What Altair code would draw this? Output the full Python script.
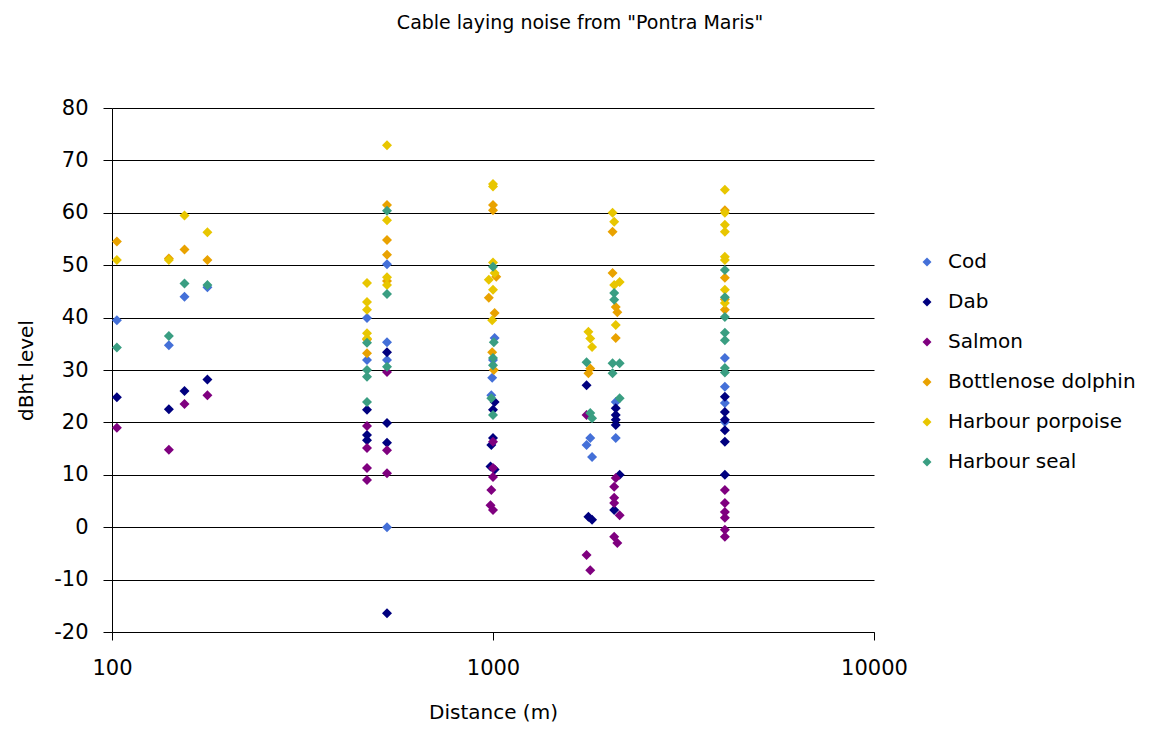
import altair as alt
import pandas as pd

species_order = ["Cod", "Dab", "Salmon", "Bottlenose dolphin", "Harbour porpoise", "Harbour seal"]
colors = ["#4470D8", "#00007F", "#7F007F", "#E9A200", "#E8C600", "#3A9E82"]

cod_dist = [103, 141, 155, 178, 467, 467, 527, 527, 527, 527, 1010, 1000, 995, 990, 1800, 1760, 1820, 2100, 2100, 4060, 4060, 4060, 4060]
cod_db = [39.5, 34.7, 44.0, 45.8, 39.9, 31.9, 50.2, 35.3, 31.9, 0.0, 36.1, 31.9, 28.5, 25.2, 17.0, 15.7, 13.4, 23.9, 17.0, 32.3, 26.8, 23.7, 20.1]

dab_dist = [103, 141, 155, 178, 467, 467, 467, 527, 527, 527, 527, 1010, 1000, 1000, 990, 985, 1010, 1760, 1780, 1820, 2100, 2100, 2100, 2100, 2150, 2080, 4060, 4060, 4060, 4060, 4060, 4060]
dab_db = [24.8, 22.5, 26.0, 28.2, 22.4, 17.6, 16.6, 33.4, 19.9, 16.1, -16.4, 23.9, 22.4, 17.0, 15.7, 11.6, 11.0, 27.1, 2.0, 1.4, 22.7, 21.4, 20.5, 19.5, 10.0, 3.3, 24.9, 22.0, 20.5, 18.5, 16.3, 10.0]

salmon_dist = [103, 141, 155, 178, 467, 467, 467, 467, 527, 527, 527, 1000, 1000, 1000, 990, 985, 1000, 1760, 1760, 1800, 2100, 2080, 2080, 2080, 2150, 2080, 2120, 4060, 4060, 4060, 4060, 4060, 4060]
salmon_db = [19.0, 14.8, 23.5, 25.2, 19.3, 15.1, 11.3, 9.0, 29.6, 14.7, 10.3, 16.3, 11.3, 9.6, 7.1, 4.2, 3.3, 21.4, -5.3, -8.2, 9.4, 7.7, 5.6, 4.6, 2.3, -1.8, -3.0, 7.1, 4.6, 2.9, 1.8, -0.5, -1.8]

bottlenose_dist = [103, 141, 155, 178, 467, 467, 527, 527, 527, 527, 1000, 1000, 1020, 975, 1010, 995, 1005, 1800, 1780, 2060, 2060, 2100, 2120, 2100, 4060, 4060, 4060, 4060]
bottlenose_db = [54.5, 51.3, 53.0, 51.0, 33.2, 35.8, 61.5, 54.8, 52.0, 47.0, 61.5, 60.5, 47.8, 43.8, 40.9, 33.4, 30.0, 30.3, 29.4, 56.4, 48.5, 42.0, 41.0, 36.1, 60.5, 47.6, 41.5, 43.5]

porpoise_dist = [103, 141, 155, 178, 467, 467, 467, 467, 467, 527, 527, 527, 527, 1000, 1000, 1000, 975, 1010, 1000, 995, 1780, 1800, 1820, 2060, 2080, 2150, 2080, 2100, 4060, 4060, 4060, 4060, 4060, 4060, 4060, 4060]
porpoise_db = [51.0, 51.0, 59.5, 56.3, 46.6, 43.0, 41.5, 37.0, 36.0, 72.9, 58.6, 47.7, 46.2, 65.5, 65.0, 50.5, 47.2, 48.5, 45.3, 39.5, 37.3, 36.0, 34.4, 60.0, 58.3, 46.8, 46.2, 38.6, 64.4, 60.0, 57.7, 56.4, 51.6, 51.0, 45.3, 42.8]

seal_dist = [103, 141, 155, 178, 467, 467, 467, 467, 527, 527, 527, 1000, 1005, 1000, 1000, 990, 1000, 1760, 1800, 1820, 2080, 2080, 2060, 2150, 2060, 2150, 4060, 4060, 4060, 4060, 4060, 4060, 4060]
seal_db = [34.3, 36.5, 46.5, 46.2, 35.2, 30.0, 28.7, 23.9, 60.4, 44.5, 30.6, 49.7, 35.3, 32.3, 30.9, 24.6, 21.4, 31.5, 21.8, 20.8, 44.7, 43.4, 31.3, 31.3, 29.4, 24.6, 49.1, 43.9, 40.1, 37.1, 35.7, 30.4, 29.5]

dists = [cod_dist, dab_dist, salmon_dist, bottlenose_dist, porpoise_dist, seal_dist]
dbs = [cod_db, dab_db, salmon_db, bottlenose_db, porpoise_db, seal_db]

rows = []
for sp, ds, vs in zip(species_order, dists, dbs):
    for d, v in zip(ds, vs):
        rows.append({"Series": sp, "Distance": d, "Level": v})
df = pd.DataFrame(rows)

FONT = "DejaVu Sans"

chart = alt.Chart(df).mark_point(
    shape="diamond", filled=True, size=100, opacity=1
).encode(
    x=alt.X("Distance:Q",
            scale=alt.Scale(type="log", domain=[100, 10000], nice=False),
            axis=alt.Axis(title="Distance (m)", values=[100, 1000, 10000], format="d",
                          labelFlush=False,
                          grid=False, tickSize=8, tickColor="black", domainColor="black",
                          labelFontSize=21, labelPadding=17, labelColor="black",
                          titleFontSize=20, titleFontWeight="normal", titlePadding=24,
                          titleColor="black", labelFont=FONT, titleFont=FONT)),
    y=alt.Y("Level:Q",
            scale=alt.Scale(domain=[-20, 80], nice=False, zero=False),
            axis=alt.Axis(title="dBht level", values=list(range(-20, 81, 10)),
                          labelExpr="'' + datum.value",
                          grid=True, gridColor="black", gridWidth=1, gridOpacity=1,
                          tickSize=9, tickColor="black", domainColor="black",
                          labelFontSize=21, labelPadding=15, labelColor="black",
                          titleFontSize=20, titleFontWeight="normal", titlePadding=17,
                          titleColor="black", labelFont=FONT, titleFont=FONT)),
    color=alt.Color("Series:N",
                    scale=alt.Scale(domain=species_order, range=colors),
                    sort=species_order,
                    legend=alt.Legend(title=None, orient="none", legendX=805, legendY=144,
                                      labelFontSize=20, labelFont=FONT, labelColor="black",
                                      labelLimit=400,
                                      symbolType="diamond", symbolSize=80, symbolStrokeWidth=0,
                                      rowPadding=20, labelOffset=11, symbolOpacity=1)),
).properties(
    width=762,
    height=524,
    title=alt.TitleParams("Cable laying noise from \"Pontra Maris\"", fontSize=19,
                          fontWeight="normal", font=FONT, color="black",
                          anchor="middle", dx=87, offset=64)
).configure(
    autosize=alt.AutoSizeParams(type="none"),
    padding={"left": 104, "top": 100, "right": 278, "bottom": 91},
).configure_view(stroke=None)

chart.save("out.html", embed_options={"renderer": "svg", "actions": False})
